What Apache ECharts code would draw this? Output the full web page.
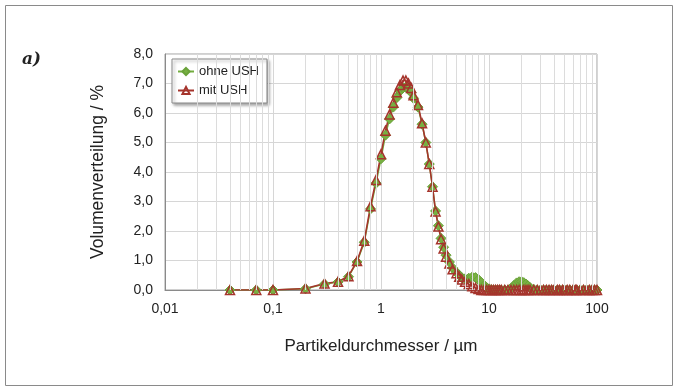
<!DOCTYPE html>
<html>
<head>
<meta charset="utf-8">
<script src="https://cdn.jsdelivr.net/npm/echarts@6/dist/echarts.min.js"></script>
<style>
  html, body { margin: 0; padding: 0; background: #fff; }
  #chart { width: 677px; height: 387px; }
</style>
</head>
<body>
<div id="chart"></div>
<script>
// Partikelgrößenklassen (µm)
var sizes = [0.04, 0.07, 0.1, 0.2, 0.3, 0.4, 0.5, 0.6, 0.7, 0.8, 0.9,
  1.0, 1.1, 1.2, 1.3, 1.4, 1.5, 1.6, 1.7, 1.8, 1.9, 2.0,
  2.2, 2.4, 2.6, 2.8, 3.0, 3.2, 3.4, 3.6, 3.8, 4.0,
  4.3, 4.6, 5.0, 5.3, 5.6, 6.0,
  6.5, 7.0, 7.5, 8.0, 8.5, 9.0, 9.5,
  10, 10.5, 11, 11.5, 12, 12.5, 13, 14, 15, 16, 17, 18, 19, 20,
  21, 22, 23, 24, 26, 28, 30, 32, 34, 36, 38, 40,
  43, 45, 48, 50, 53, 56, 60, 63, 65, 70, 75, 80, 85, 90, 95, 100];

// Volumenverteilung ohne Ultraschall (%)
var ohneUSH = [0, 0, 0, 0.04, 0.2, 0.27, 0.45, 0.95, 1.62, 2.75, 3.62,
  4.45, 5.25, 5.8, 6.2, 6.52, 6.75, 6.85, 6.88, 6.8, 6.7, 6.5,
  6.2, 5.62, 5.0, 4.27, 3.5, 2.68, 2.18, 1.75, 1.45, 1.18,
  0.95, 0.75, 0.6, 0.5, 0.42, 0.38,
  0.4, 0.44, 0.42, 0.35, 0.25, 0.15, 0.08,
  0.04, 0.01, 0, 0, 0, 0, 0, 0, 0, 0.06, 0.15, 0.24, 0.28, 0.28,
  0.25, 0.2, 0.14, 0.08, 0.02, 0, 0, 0, 0, 0, 0, 0,
  0, 0, 0, 0, 0, 0, 0, 0, 0, 0, 0, 0, 0, 0, 0, 0];

// Volumenverteilung mit Ultraschall (%)
var mitUSH = [0, 0, 0, 0.05, 0.22, 0.28, 0.47, 0.98, 1.67, 2.84, 3.73,
  4.6, 5.4, 5.95, 6.35, 6.7, 6.95, 7.1, 7.1, 7.0, 6.85, 6.6,
  6.27, 5.65, 5.0, 4.27, 3.5, 2.66, 2.15, 1.72, 1.41, 1.13,
  0.9, 0.7, 0.57, 0.45, 0.36, 0.28,
  0.2, 0.13, 0.07, 0.03, 0, 0, 0,
  0, 0, 0, 0, 0, 0, 0, 0, 0, 0, 0, 0, 0, 0,
  0, 0, 0, 0, 0, 0, 0, 0, 0, 0, 0, 0,
  0, 0, 0, 0, 0, 0, 0, 0, 0, 0, 0, 0, 0, 0, 0, 0];

// Nebengitterlinien der log. Achse
var minorGridX = [0.02, 0.03, 0.04, 0.05, 0.06, 0.07, 0.08, 0.09,
  0.2, 0.3, 0.4, 0.5, 0.6, 0.7, 0.8, 0.9,
  2, 3, 4, 5, 6, 7, 8, 9,
  20, 30, 40, 50, 60, 70, 80, 90];

function pairs(xs, ys) {
  var out = [];
  for (var i = 0; i < xs.length; i++) {
    out.push([xs[i], ys[i]]);
  }
  return out;
}

var fontFamily = "'Liberation Sans', Arial, sans-serif";

var chart = echarts.init(document.getElementById("chart"));
chart.setOption({
  animation: false,
  backgroundColor: "#fff",
  textStyle: { fontFamily: fontFamily },
  graphic: [
    {
      type: "rect",
      shape: { x: 5.5, y: 5.5, width: 667, height: 380 },
      style: { fill: "none", stroke: "#8a8a8a", lineWidth: 1 },
      silent: true
    },
    {
      type: "text",
      left: 22,
      top: 51,
      style: {
        text: "a)",
        font: "italic bold 17px 'DejaVu Serif', 'Liberation Serif', serif",
        fill: "#222"
      }
    }
  ],
  grid: {
    left: 165,
    right: 80,
    top: 54,
    bottom: 97,
    show: true,
    borderColor: "#a0a0a0",
    borderWidth: 1
  },
  legend: {
    data: ["ohne USH", "mit USH"],
    orient: "vertical",
    left: 172,
    top: 59,
    padding: [6, 8, 6, 5],
    itemGap: 6,
    itemWidth: 16,
    itemHeight: 9,
    backgroundColor: "#fff",
    borderColor: "#8a8a8a",
    borderWidth: 1,
    shadowColor: "rgba(0,0,0,0.35)",
    shadowBlur: 3,
    shadowOffsetX: 2,
    shadowOffsetY: 2,
    textStyle: { fontSize: 13, color: "#222" }
  },
  xAxis: {
    type: "log",
    logBase: 10,
    min: 0.01,
    max: 100,
    name: "Partikeldurchmesser / µm",
    nameLocation: "middle",
    nameGap: 48,
    nameTextStyle: { fontSize: 17, color: "#222" },
    axisLine: { lineStyle: { color: "#8a8a8a" } },
    axisTick: { show: false },
    axisLabel: {
      fontSize: 14,
      color: "#222",
      margin: 12,
      formatter: function (v) {
        return String(v).replace(".", ",");
      }
    },
    splitLine: { show: true, lineStyle: { color: "#d6d6d6" } }
  },
  yAxis: {
    type: "value",
    min: 0,
    max: 8,
    interval: 1,
    name: "Volumenverteilung / %",
    nameLocation: "middle",
    nameGap: 58,
    nameTextStyle: { fontSize: 17.5, color: "#222" },
    axisLine: { show: true, lineStyle: { color: "#8a8a8a" } },
    axisTick: { show: false },
    axisLabel: {
      fontSize: 14,
      color: "#222",
      margin: 12,
      formatter: function (v) {
        return v.toFixed(1).replace(".", ",");
      }
    },
    splitLine: { show: true, lineStyle: { color: "#d6d6d6" } }
  },
  series: [
    {
      name: "grid",
      type: "line",
      data: [],
      silent: true,
      markLine: {
        silent: true,
        symbol: "none",
        label: { show: false },
        lineStyle: { color: "#dcdcdc", width: 1, type: "solid" },
        data: minorGridX.map(function (v) { return { xAxis: v }; })
      }
    },
    {
      name: "ohne USH",
      type: "line",
      data: pairs(sizes, ohneUSH),
      symbol: "diamond",
      symbolSize: 10,
      lineStyle: { color: "#73ad3e", width: 1.5 },
      itemStyle: { color: "#78b042", borderColor: "#6aa23a", borderWidth: 1 }
    },
    {
      name: "mit USH",
      type: "line",
      data: pairs(sizes, mitUSH),
      symbol: "triangle",
      symbolSize: 9,
      lineStyle: { color: "#a5342c", width: 1.6 },
      itemStyle: { color: "rgba(255,255,255,0)", borderColor: "#a5342c", borderWidth: 1.5 }
    }
  ]
});
</script>
</body>
</html>
